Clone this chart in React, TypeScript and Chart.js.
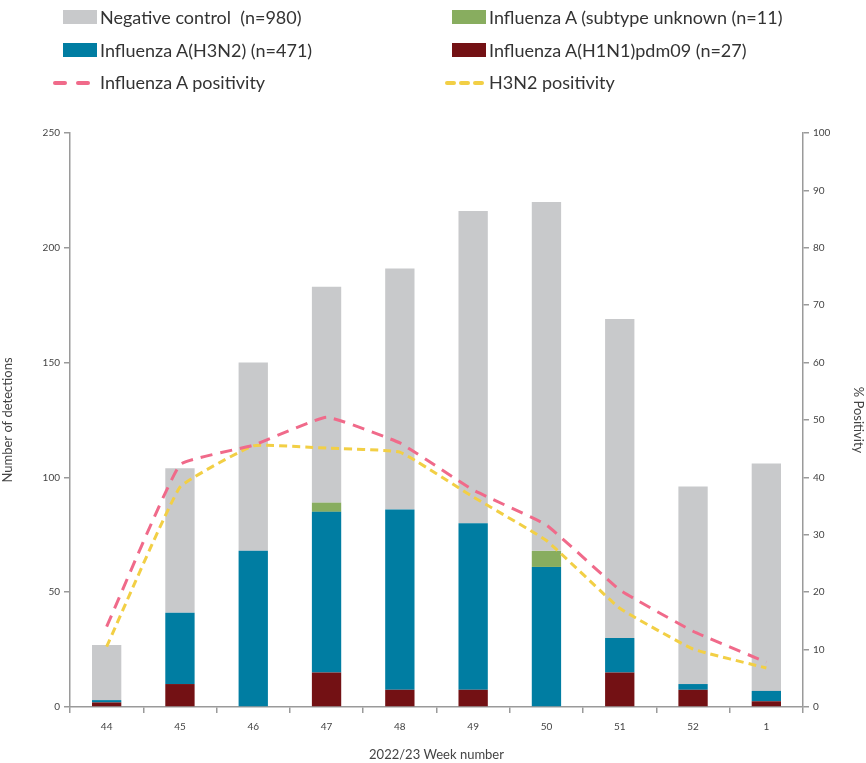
import React, { useEffect, useRef } from "react";
import { Chart, registerables } from "chart.js";

Chart.register(...registerables);

// Weekly detections by category and weekly positivity (%)
const weeks = ["44", "45", "46", "47", "48", "49", "50", "51", "52", "1"];
const h1n1 = [2, 10, 0, 15, 7.5, 7.5, 0, 15, 7.5, 2.5];
const h3n2 = [1, 31, 68, 70, 78.5, 72.5, 61, 15, 2.5, 4.5];
const subtypeUnknown = [0, 0, 0, 4, 0, 0, 7, 0, 0, 0];
const negative = [24, 63, 82, 94, 105, 136, 152, 139, 86, 99];
const fluAPositivity = [14, 42.2, 45.6, 50.5, 46, 37.8, 31.7, 20.4, 13.2, 7.8];
const h3n2Positivity = [10.5, 38.3, 45.5, 45.1, 44.4, 36.6, 29, 17.2, 10.1, 6.8];

const labels = {
  negative: "Negative control  (n=980)",
  unknown: "Influenza A (subtype unknown (n=11)",
  h3n2: "Influenza A(H3N2) (n=471)",
  h1n1: "Influenza A(H1N1)pdm09 (n=27)",
  fluAPos: "Influenza A positivity",
  h3n2Pos: "H3N2 positivity",
};

const colors = {
  negative: "#c8c9cb",
  unknown: "#88ad5f",
  h3n2: "#007da2",
  h1n1: "#731114",
  fluAPos: "#f06a8a",
  h3n2Pos: "#f2cf45",
};

const tickFont = { family: "Lato", size: 10 };
const axisGrey = "#9a9a9a";

export default function App() {
  const canvasRef = useRef<HTMLCanvasElement | null>(null);

  useEffect(() => {
    document.body.style.margin = "0";
    const ctx = canvasRef.current!.getContext("2d")!;
    const chart = new Chart(ctx, {
      type: "bar",
      data: {
        labels: weeks,
        datasets: [
          {
            type: "line",
            label: labels.fluAPos,
            data: fluAPositivity,
            yAxisID: "y1",
            borderColor: colors.fluAPos,
            borderWidth: 3,
            borderDash: [12, 8],
            pointRadius: 0,
            tension: 0.1,
            fill: false,
            order: 0,
          },
          {
            type: "line",
            label: labels.h3n2Pos,
            data: h3n2Positivity,
            yAxisID: "y1",
            borderColor: colors.h3n2Pos,
            borderWidth: 3,
            borderDash: [8, 5],
            pointRadius: 0,
            tension: 0.1,
            fill: false,
            order: 0,
          },
          { label: labels.h1n1, data: h1n1, backgroundColor: colors.h1n1, yAxisID: "y", order: 1 },
          { label: labels.h3n2, data: h3n2, backgroundColor: colors.h3n2, yAxisID: "y", order: 1 },
          { label: labels.unknown, data: subtypeUnknown, backgroundColor: colors.unknown, yAxisID: "y", order: 1 },
          { label: labels.negative, data: negative, backgroundColor: colors.negative, yAxisID: "y", order: 1 },
        ] as any,
      },
      options: {
        animation: false,
        responsive: false,
        maintainAspectRatio: false,
        datasets: { bar: { barPercentage: 0.4, categoryPercentage: 1 } } as any,
        layout: { padding: { top: 133, left: 0, right: 0, bottom: 0 } },
        plugins: { legend: { display: false }, tooltip: { enabled: false } },
        scales: {
          x: {
            stacked: true,
            afterFit: (s: any) => { s.height = 56; },
            border: { color: axisGrey, width: 1.5 },
            grid: { offset: true, drawOnChartArea: false, drawTicks: true, tickLength: 6, color: axisGrey, lineWidth: 1.5 },
            ticks: { font: tickFont, color: "#444", padding: 8 },
            title: { display: true, text: "2022/23 Week number", font: { family: "Lato", size: 13 }, color: "#444", padding: { top: 6, bottom: 0 } },
          },
          y: {
            stacked: true,
            position: "left",
            min: 0,
            max: 250,
            afterFit: (s: any) => { s.width = 70; },
            border: { color: axisGrey, width: 1.5 },
            grid: { drawOnChartArea: false, drawTicks: true, tickLength: 6, color: axisGrey, lineWidth: 1.5 },
            ticks: { stepSize: 50, font: tickFont, color: "#444", padding: 4 },
            title: { display: true, text: "Number of detections", font: { family: "Lato", size: 13 }, color: "#444", padding: { top: 0, bottom: 0 } },
          },
          y1: {
            stacked: false,
            position: "right",
            min: 0,
            max: 100,
            afterFit: (s: any) => { s.width = 63; },
            border: { color: axisGrey, width: 1.5 },
            grid: { drawOnChartArea: false, drawTicks: true, tickLength: 6, color: axisGrey, lineWidth: 1.5 },
            ticks: { stepSize: 10, font: tickFont, color: "#444", padding: 4 },
            title: { display: true, text: "% Positivity", font: { family: "Lato", size: 13 }, color: "#444", padding: { top: 0, bottom: 8 } },
          },
        },
      } as any,
    });
    return () => chart.destroy();
  }, []);

  const textStyle: React.CSSProperties = {
    position: "absolute",
    fontFamily: "Lato",
    fontSize: 18,
    color: "#333",
    lineHeight: "20px",
    whiteSpace: "pre",
  };
  const box = (left: number, top: number, color: string): React.CSSProperties => ({
    position: "absolute",
    left,
    top,
    width: 34,
    height: 14,
    background: color,
  });
  const dash = (left: number, top: number, width: number, color: string): React.CSSProperties => ({
    position: "absolute",
    left,
    top,
    width,
    height: 4,
    borderRadius: 2,
    background: color,
  });

  return (
    <div style={{ position: "relative", width: 866, height: 763, background: "#fff" }}>
      <canvas ref={canvasRef} width={866} height={763} style={{ position: "absolute", left: 0, top: 0 }} />
      <div style={box(63, 10, colors.negative)} />
      <div style={{ ...textStyle, left: 100, top: 7 }}>{labels.negative}</div>
      <div style={box(452, 10, colors.unknown)} />
      <div style={{ ...textStyle, left: 489, top: 7 }}>{labels.unknown}</div>
      <div style={box(63, 43, colors.h3n2)} />
      <div style={{ ...textStyle, left: 100, top: 40 }}>{labels.h3n2}</div>
      <div style={box(452, 43, colors.h1n1)} />
      <div style={{ ...textStyle, left: 489, top: 40 }}>{labels.h1n1}</div>
      <div style={dash(53, 81, 14, colors.fluAPos)} />
      <div style={dash(76, 81, 14, colors.fluAPos)} />
      <div style={{ ...textStyle, left: 100, top: 72 }}>{labels.fluAPos}</div>
      <div style={dash(445, 81, 11, colors.h3n2Pos)} />
      <div style={dash(459, 81, 11, colors.h3n2Pos)} />
      <div style={dash(473, 81, 11, colors.h3n2Pos)} />
      <div style={{ ...textStyle, left: 489, top: 72 }}>{labels.h3n2Pos}</div>
    </div>
  );
}
